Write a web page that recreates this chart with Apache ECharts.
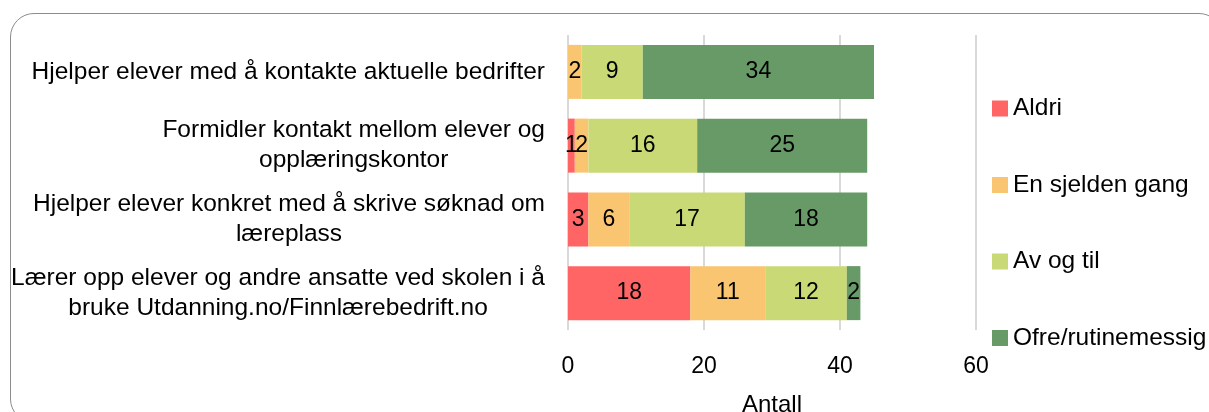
<!DOCTYPE html>
<html>
<head>
<meta charset="utf-8">
<script src="https://cdn.jsdelivr.net/npm/echarts@6/dist/echarts.min.js"></script>
<style>
    html, body { margin: 0; padding: 0; background: #fff; overflow: hidden; }
    #frame {
        position: absolute; left: 10px; top: 13px; width: 1213px; height: 410px;
        border: 1px solid #8c8c8c; border-radius: 24px; box-sizing: border-box;
    }
    #chart { position: absolute; left: 0; top: 0; width: 1209px; height: 412px; }
</style>
</head>
<body>
<div id="frame"></div>
<div id="chart"></div>
<script>
var categories = [
    'Hjelper elever med å kontakte aktuelle bedrifter',
    'Formidler kontakt mellom elever og\nopplæringskontor',
    'Hjelper elever konkret med å skrive søknad om\nlæreplass',
    'Lærer opp elever og andre ansatte ved skolen i å\nbruke Utdanning.no/Finnlærebedrift.no'
];
var seriesNames = ['Aldri', 'En sjelden gang', 'Av og til', 'Ofre/rutinemessig'];
var aldri = [0, 1, 3, 18];
var sjelden = [2, 2, 6, 11];
var avOgTil = [9, 16, 17, 12];
var ofre = [34, 25, 18, 2];
var xTicks = [0, 20, 40, 60];

var colors = ['#ff6565', '#f9c570', '#c9d975', '#679a66'];
var fontFamily = 'Liberation Sans';
var catFontSize = 24.5;

var chart = echarts.init(document.getElementById('chart'));

// centre the lines of each category label inside its own block
var measureCtx = document.createElement('canvas').getContext('2d');
measureCtx.font = catFontSize + 'px "' + fontFamily + '"';
var catRich = {};
var catFormatted = categories.map(function (cat, i) {
    var lines = cat.split('\n');
    var widths = lines.map(function (l) { return measureCtx.measureText(l).width; });
    var maxW = Math.max.apply(null, widths);
    return lines.map(function (l, j) {
        var key = 'p' + i + '_' + j;
        catRich[key] = {
            fontSize: catFontSize,
            fontFamily: fontFamily,
            lineHeight: 30,
            color: '#000',
            padding: [0, (maxW - widths[j]) / 2, 0, 0]
        };
        return '{' + key + '|' + l + '}';
    }).join('\n');
});

function makeSeries(name, data, color) {
    return {
        name: name,
        type: 'bar',
        stack: 'total',
        barWidth: 54,
        data: data,
        itemStyle: { color: color },
        label: {
            show: true,
            position: 'inside',
            color: '#000',
            fontSize: 23,
            fontFamily: fontFamily,
            formatter: function (p) {
                return p.value === 0 ? '' : p.value;
            }
        }
    };
}

var option = {
    backgroundColor: 'transparent',
    animation: false,
    color: colors,
    grid: {
        top: 35,
        bottom: 82,
        left: 568,
        right: 233,
        outerBoundsMode: 'none',
        containLabel: false
    },
    legend: {
        orient: 'vertical',
        left: 987,
        top: 91,
        itemGap: 51.5,
        itemWidth: 16,
        itemHeight: 16,
        icon: 'rect',
        data: seriesNames,
        textStyle: {
            color: '#000',
            fontSize: 24.5,
            fontFamily: fontFamily
        }
    },
    xAxis: {
        type: 'value',
        min: xTicks[0],
        max: xTicks[xTicks.length - 1],
        interval: 20,
        name: 'Antall',
        nameLocation: 'middle',
        nameGap: 63,
        nameTextStyle: { color: '#000', fontSize: 24, fontFamily: fontFamily },
        axisLine: { show: false },
        axisTick: { show: false },
        axisLabel: { color: '#000', fontSize: 23, fontFamily: fontFamily, margin: 25 },
        splitLine: { show: true, lineStyle: { color: '#d9d9d9', width: 2 } }
    },
    yAxis: {
        type: 'category',
        inverse: true,
        data: categories,
        axisLine: { show: false },
        axisTick: { show: false },
        axisLabel: {
            margin: 23,
            color: '#000',
            fontSize: catFontSize,
            fontFamily: fontFamily,
            lineHeight: 30,
            formatter: function (v, idx) {
                return catFormatted[idx];
            },
            rich: catRich
        }
    },
    series: [
        makeSeries(seriesNames[0], aldri, colors[0]),
        makeSeries(seriesNames[1], sjelden, colors[1]),
        makeSeries(seriesNames[2], avOgTil, colors[2]),
        makeSeries(seriesNames[3], ofre, colors[3])
    ]
};

chart.setOption(option);
</script>
</body>
</html>
